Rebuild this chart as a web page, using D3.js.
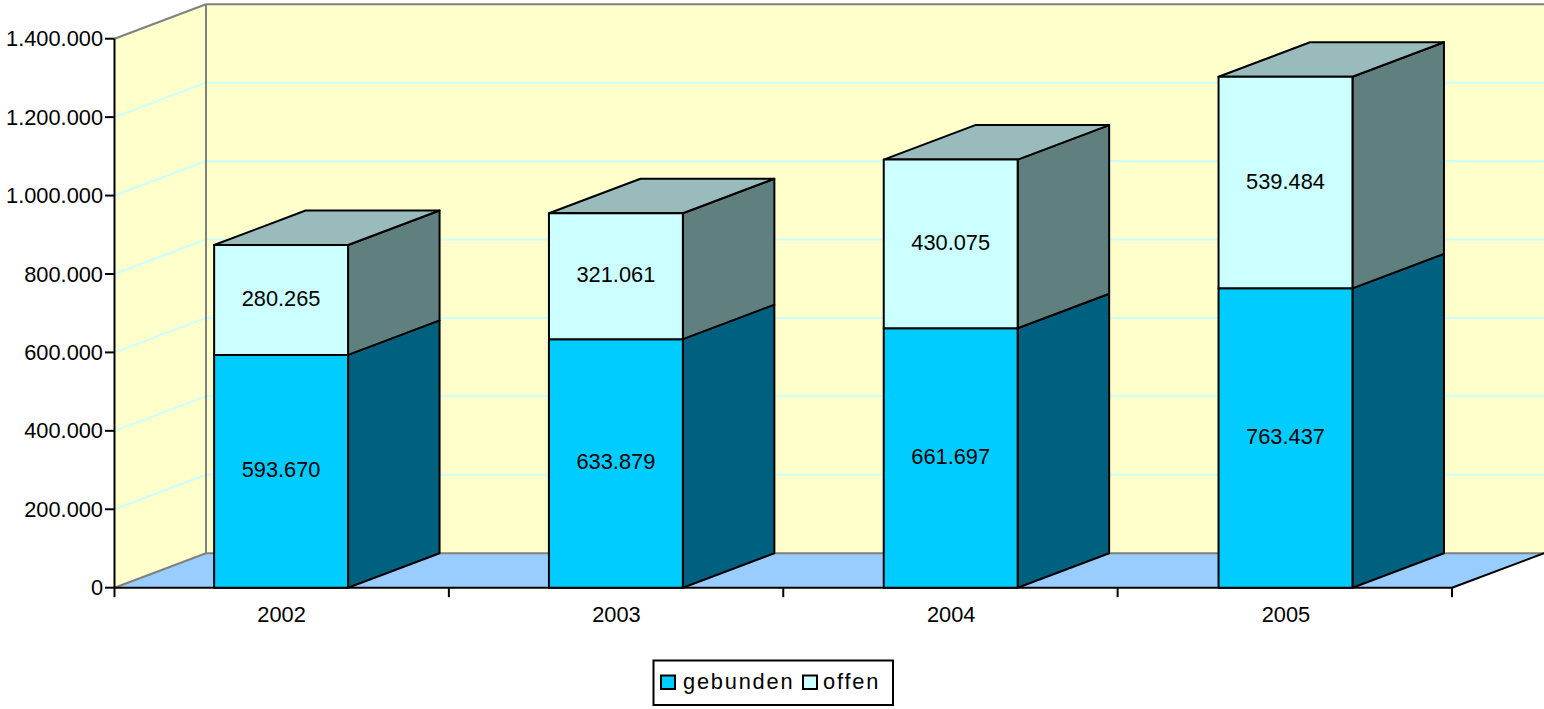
<!DOCTYPE html>
<html><head><meta charset="utf-8">
<script src="https://cdn.jsdelivr.net/npm/d3@7/dist/d3.min.js"></script>
<style>html,body{margin:0;padding:0;background:#fff}svg{display:block}text{font-family:"Liberation Sans",Arial,sans-serif;fill:#000}</style>
</head><body><svg id="c" width="1544" height="709"></svg>
<script>
const categories = ["2002","2003","2004","2005"];
const gebunden = [593670,633879,661697,763437];
const offen = [280265,321061,430075,539484];
const gebundenLabels = ["593.670","633.879","661.697","763.437"];
const offenLabels = ["280.265","321.061","430.075","539.484"];
const yTicks = [0,200000,400000,600000,800000,1000000,1200000,1400000];
const yTickLabels = ["0","200.000","400.000","600.000","800.000","1.000.000","1.200.000","1.400.000"];
const seriesNames = ["gebunden","offen"];

const W=1544,H=709,dx=91.5,dy=-34.5;
const FS=21.8;
const svg=d3.select("#c");
const x=d3.scaleBand().domain(categories).range([113.7,1452.9]).paddingInner(0.6).paddingOuter(0.3);
const y=d3.scaleLinear().domain([0,1400000]).range([587.7,38.7]);
const xl=114.5,xr=1452,yb=y(0),yt=y(1400000);
const poly=(pts,fill,stroke,sw)=>svg.append("polygon").attr("points",pts.map(p=>p.join(",")).join(" ")).attr("fill",fill).attr("stroke",stroke||"none").attr("stroke-width",sw||0).attr("stroke-linejoin","round");
const line=(a,b,c,w)=>svg.append("line").attr("x1",a[0]).attr("y1",a[1]).attr("x2",b[0]).attr("y2",b[1]).attr("stroke",c).attr("stroke-width",w);

// walls
poly([[xl,yb],[xl+dx,yb+dy],[xl+dx,yt+dy],[xl,yt]],"#FFFFCC");
poly([[xl+dx,yb+dy],[W,yb+dy],[W,yt+dy],[xl+dx,yt+dy]],"#FFFFCC");
poly([[xl,yb],[xl+dx,yb+dy],[W,yb+dy],[xr,yb]],"#99CCFF");
// grid
yTicks.slice(1,-1).forEach(t=>{
  line([xl,y(t)],[xl+dx,y(t)+dy],"#CCFFFF",2);
  line([xl+dx,y(t)+dy],[W,y(t)+dy],"#CCFFFF",2);
});
// wall borders
line([xl,yt],[xl+dx,yt+dy],"#808080",2);
line([xl+dx,yt+dy],[W,yt+dy],"#808080",2);
line([xl+dx,yt+dy],[xl+dx,yb+dy],"#808080",2);
line([xl,yb],[xl+dx,yb+dy],"#808080",2);
line([xl+dx,yb+dy],[W,yb+dy],"#808080",2);
line([xr,yb],[W,yb+dy],"#000",2);

// axes
const axisY=svg.append("g").attr("transform",`translate(${xl},0)`)
  .call(d3.axisLeft(y).tickValues(yTicks).tickSize(9.5).tickPadding(2).offset(0).tickFormat((d,i)=>yTickLabels[i]));
axisY.selectAll("path,line").attr("stroke","#000").attr("stroke-width",2);
axisY.selectAll("text").attr("font-size",FS).attr("font-family","Liberation Sans").attr("dy","0.35em");
axisY.select("path").attr("d",`M0,${yt}V${yb}`);

const xTickPos=d3.range(categories.length+1).map(i=>xl+(xr-xl)*i/categories.length);
const xTickScale=d3.scaleLinear().domain([xl,xr]).range([xl,xr]);
const axisX=svg.append("g").attr("transform",`translate(0,${yb})`)
  .call(d3.axisBottom(xTickScale).tickValues(xTickPos).tickSize(9.5).offset(0).tickFormat(""));
axisX.selectAll("path,line").attr("stroke","#000").attr("stroke-width",2);
axisX.select("path").attr("d",`M${xl},0H${xr}`);
categories.forEach(c=>svg.append("text").attr("x",x(c)+x.bandwidth()/2+0.5).attr("y",622).attr("text-anchor","middle").attr("font-size",FS).text(c));

// bars
categories.forEach((c,i)=>{
  const a=x(c),b=a+x.bandwidth();
  const y0=y(0),y1=y(gebunden[i]),y2=y(gebunden[i]+offen[i]);
  const st="#000",sw=2;
  poly([[b,y0],[b+dx,y0+dy],[b+dx,y1+dy],[b,y1]],"#006080",st,sw);
  poly([[b,y1],[b+dx,y1+dy],[b+dx,y2+dy],[b,y2]],"#608080",st,sw);
  poly([[a,y2],[a+dx,y2+dy],[b+dx,y2+dy],[b,y2]],"#99BBBB",st,sw);
  poly([[a,y0],[b,y0],[b,y1],[a,y1]],"#00CCFF",st,sw);
  poly([[a,y1],[b,y1],[b,y2],[a,y2]],"#CCFFFF",st,sw);
  const m=(a+b)/2;
  svg.append("text").attr("x",m).attr("y",(y0+y1)/2+6).attr("text-anchor","middle").attr("font-size",FS).text(gebundenLabels[i]);
  svg.append("text").attr("x",m).attr("y",(y1+y2)/2+6).attr("text-anchor","middle").attr("font-size",FS).text(offenLabels[i]);
});

// legend
svg.append("rect").attr("x",653.5).attr("y",660.5).attr("width",239.5).attr("height",44.5).attr("fill","#fff").attr("stroke","#000").attr("stroke-width",2);
const swatchX=[661,803],textX=[683,823],swatchC=["#00CCFF","#CCFFFF"];
seriesNames.forEach((n,i)=>{
  svg.append("rect").attr("x",swatchX[i]).attr("y",675.5).attr("width",14).attr("height",13.5).attr("fill",swatchC[i]).attr("stroke","#000").attr("stroke-width",2);
  svg.append("text").attr("x",textX[i]).attr("y",689).attr("font-size",FS).attr("letter-spacing",1.8).text(n);
});
</script></body></html>
